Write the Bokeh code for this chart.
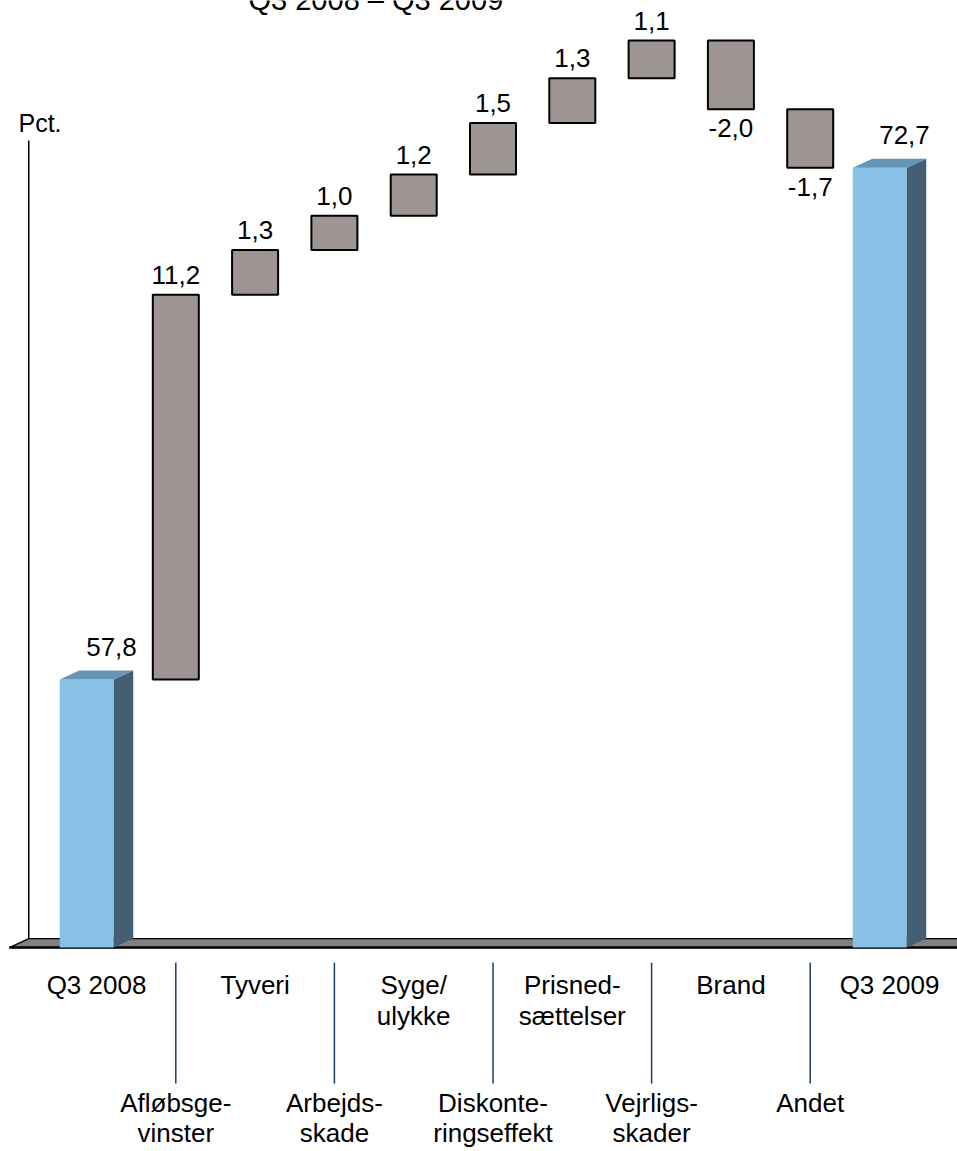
from bokeh.plotting import figure
from bokeh.models import Range1d, ColumnDataSource, Label
from bokeh.embed import file_html
from bokeh.resources import INLINE
from bokeh.core.properties import value

# Claims ratio bridge, Q3 2008 to Q3 2009 (pct.)
categories = ["Q3 2008", "Afløbsgevinster", "Tyveri", "Arbejdsskade", "Syge/ulykke",
              "Diskonteringseffekt", "Prisnedsættelser", "Vejrligsskader", "Brand",
              "Andet", "Q3 2009"]
tick_labels = ["Q3 2008", "Afløbsge-\nvinster", "Tyveri", "Arbejds-\nskade", "Syge/\nulykke",
               "Diskonte-\nringseffekt", "Prisned-\nsættelser", "Vejrligs-\nskader", "Brand",
               "Andet", "Q3 2009"]
start_value = 57.8
changes = [11.2, 1.3, 1.0, 1.2, 1.5, 1.3, 1.1, -2.0, -1.7]
end_value = 72.7
axis_floor = 50.0  # the y axis is truncated at this value

FONT_NAME = "Liberation Sans"
FONT = value(FONT_NAME)
W, H = 957, 1151
PX_X = 79.3    # pixels per category step
PX_Y = 34.36   # pixels per percentage point
BL = -11       # baseline correction for alphabetic text in the svg backend


def fmt(v):
    return f"{v:.1f}".replace(".", ",")


# running level after each step
levels = [start_value]
for ch in changes:
    levels.append(round(levels[-1] + ch, 1))
peak = max(levels)

x_start = -96 / PX_X
x_end = x_start + W / PX_X
y_end = peak + 40 / PX_Y
y_start = y_end - H / PX_Y

p = figure(width=W, height=H, x_range=Range1d(x_start, x_end), y_range=Range1d(y_start, y_end),
           x_axis_location=None, y_axis_location=None, toolbar_location=None,
           output_backend="svg", min_border=0, outline_line_color=None,
           background_fill_color="white", border_fill_color="white")
p.xgrid.grid_line_color = None
p.ygrid.grid_line_color = None

# 3-D depth of the floor and the end bars
DX = 19.5 / PX_X
DY = 9 / PX_Y
F = axis_floor
n = len(categories)

# floor slab
fl, fr = -1.1, n - 1 + 1.1
p.patch(x=[fl, fr, fr + DX, fl + DX], y=[F, F, F + DY, F + DY],
        fill_color="#808080", line_color="black", line_width=1.2)
p.segment(x0=[fl], y0=[F], x1=[fr], y1=[F], line_color="black", line_width=2.5)

# vertical axis line
p.segment(x0=[fl + DX], y0=[F + DY], x1=[fl + DX], y1=[y_end - 140 / PX_Y],
          line_color="black", line_width=1.5)

# start and end bars drawn as boxes with a top and a side face
bar_w = 54 / PX_X
for i, v in [(0, start_value), (n - 1, end_value)]:
    l = i - DX / 2 - bar_w / 2
    r = l + bar_w
    p.quad(left=[l], right=[r], bottom=[F], top=[v], fill_color="#87C1E6", line_color=None)
    p.patch(x=[r, r + DX, r + DX, r], y=[F, F + DY, v + DY, v],
            fill_color="#445F73", line_color=None)
    p.patch(x=[l, r, r + DX, l + DX], y=[v, v, v + DY, v + DY],
            fill_color="#6594B4", line_color=None)

bar_src = ColumnDataSource(dict(x=[0, n - 1], y=[start_value, end_value],
                                t=[fmt(start_value), fmt(end_value)]))
p.text(x="x", y="y", text="t", source=bar_src, text_font=FONT, text_font_size="26px",
       text_align="center", text_baseline="alphabetic", x_offset=15, y_offset=-22 + BL,
       text_color="black")

# floating change boxes
box_w = 46 / PX_X
bx, bb, bt = [], [], []
up_x, up_y, up_t, dn_x, dn_y, dn_t = [], [], [], [], [], []
for k, ch in enumerate(changes):
    i = k + 1
    lo, hi = sorted([levels[k], levels[k + 1]])
    bx.append(i)
    bb.append(lo)
    bt.append(hi)
    if ch >= 0:
        up_x.append(i); up_y.append(hi); up_t.append(fmt(ch))
    else:
        dn_x.append(i); dn_y.append(lo); dn_t.append(fmt(ch))

box_src = ColumnDataSource(dict(x=bx, bottom=bb, top=bt))
p.vbar(x="x", width=box_w, bottom="bottom", top="top", source=box_src,
       fill_color="#9C9592", line_color="black", line_width=2)

p.text(x=up_x, y=up_y, text=up_t, text_font=FONT, text_font_size="26px",
       text_align="center", text_baseline="alphabetic", y_offset=-9 + BL, text_color="black")
p.text(x=dn_x, y=dn_y, text=dn_t, text_font=FONT, text_font_size="26px",
       text_align="center", text_baseline="top", y_offset=10, text_color="black")

# category labels in two staggered rows, lower row hung from leader lines
row_off = {0: (48, 79), 1: (166, 196)}
for row in (0, 1):
    xs, l1, l2 = [], [], []
    for i, lab in enumerate(tick_labels):
        if i % 2 != row:
            continue
        parts = lab.split("\n")
        xs.append(i)
        l1.append(parts[0])
        l2.append(parts[1] if len(parts) > 1 else "")
    o1, o2 = row_off[row]
    p.text(x=xs, y=[F] * len(xs), text=l1, text_font=FONT, text_font_size="26px",
           text_align="center", text_baseline="alphabetic", y_offset=o1 + BL,
           text_color="black")
    p.text(x=xs, y=[F] * len(xs), text=l2, text_font=FONT, text_font_size="26px",
           text_align="center", text_baseline="alphabetic", y_offset=o2 + BL,
           text_color="black")

lead_x = [i for i in range(n) if i % 2 == 1]
p.segment(x0=lead_x, y0=[F - 15 / PX_Y] * len(lead_x), x1=lead_x,
          y1=[F - 136 / PX_Y] * len(lead_x), line_color="#1F3A68", line_width=1.5)

# title (runs off the top edge) and unit label
p.add_layout(Label(x=248, y=H - 10 - BL, x_units="screen", y_units="screen",
                   text=f"{categories[0]} – {categories[-1]}", text_font=FONT_NAME,
                   text_font_size="29px", text_baseline="alphabetic", text_color="black"))
p.add_layout(Label(x=18, y=H - 133 - BL, x_units="screen", y_units="screen", text="Pct.",
                   text_font=FONT_NAME, text_font_size="25px", text_baseline="alphabetic",
                   text_color="black"))

open("out.html", "w").write(file_html(p, INLINE))
